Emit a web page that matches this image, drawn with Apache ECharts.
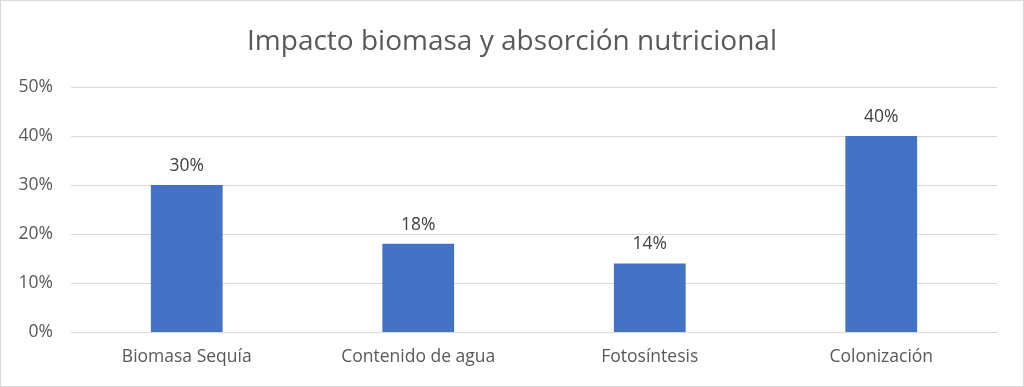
<!DOCTYPE html>
<html><head><meta charset="utf-8">
<script src="https://cdn.jsdelivr.net/npm/echarts@6/dist/echarts.min.js"></script>
<style>
html,body{margin:0;padding:0;background:#fff;}
#c{width:1024px;height:387px;box-sizing:border-box;border:1px solid #d9d9d9;}
</style></head>
<body><div id="c"></div>
<script>
const titleText = "Impacto biomasa y absorción nutricional";
const categories = ["Biomasa Sequía", "Contenido de agua", "Fotosíntesis", "Colonización"];
const values = [0.30, 0.18, 0.14, 0.40];
const yTicks = [0, 0.1, 0.2, 0.3, 0.4, 0.5];

const font = "'Open Sans', 'Noto Sans', sans-serif";
const chart = echarts.init(document.getElementById('c'), null, {renderer: 'canvas'});
chart.setOption({
  animation: false,
  textStyle: {fontFamily: font},
  title: {
    text: titleText, left: 'center', top: 22,
    textStyle: {fontFamily: font, fontSize: 28, fontWeight: 'normal', color: '#595959'}
  },
  grid: {left: 70, right: 26, top: 86, bottom: 54, containLabel: false},
  xAxis: {
    type: 'category', data: categories,
    axisLine: {lineStyle: {color: '#d9d9d9', width: 1}},
    axisTick: {show: false},
    axisLabel: {color: '#595959', fontSize: 17.5, margin: 16, fontFamily: font}
  },
  yAxis: {
    type: 'value', min: yTicks[0], max: yTicks[yTicks.length - 1], interval: 0.1,
    axisLine: {show: false}, axisTick: {show: false},
    splitLine: {lineStyle: {color: '#d9d9d9', width: 1}},
    axisLabel: {color: '#595959', fontSize: 17.5, margin: 18, fontFamily: font,
      formatter: v => Math.round(v * 100) + '%'}
  },
  series: [{
    type: 'bar', data: values, barWidth: '31%',
    itemStyle: {color: '#4472C4'},
    label: {show: true, position: 'top', distance: 10, color: '#404040', fontSize: 17.5, fontFamily: font,
      formatter: p => Math.round(p.value * 100) + '%'}
  }]
});
</script></body></html>
